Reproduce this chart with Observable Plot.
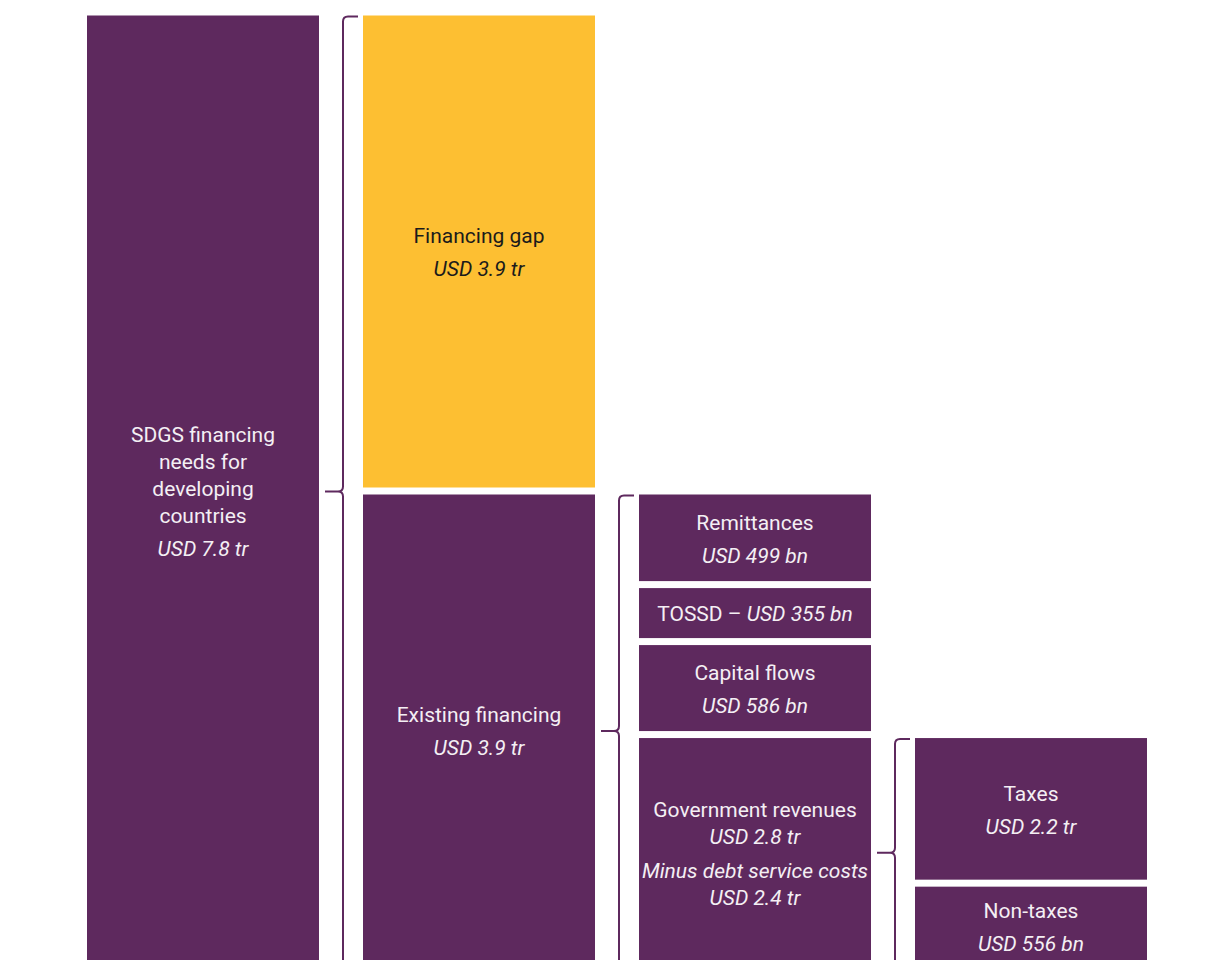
<!DOCTYPE html>
<html>
<head>
<meta charset="utf-8">
<script src="https://cdn.jsdelivr.net/npm/d3@7"></script>
<script src="https://cdn.jsdelivr.net/npm/@observablehq/plot@0.6"></script>
<style>
  html, body { margin: 0; padding: 0; background: #fff; overflow: hidden; }
  #chart svg { display: block; }
</style>
</head>
<body>
<div id="chart"></div>
<script>
// ---- Data ----
const columns = ["Needs", "Gap and existing", "Existing sources", "Government revenue sources"];

const blockColumn = [0, 1, 1, 2, 2, 2, 2, 3, 3];
const blockTitle = [
  "SDGS financing\nneeds for\ndeveloping\ncountries",
  "Financing gap",
  "Existing financing",
  "Remittances",
  "TOSSD –",
  "Capital flows",
  "Government revenues",
  "Taxes",
  "Non-taxes"
];
const blockAmount = [
  "USD 7.8 tr", "USD 3.9 tr", "USD 3.9 tr",
  "USD 499 bn", "USD 355 bn", "USD 586 bn", "USD 2.8 tr",
  "USD 2.2 tr", "USD 556 bn"
];
const blockNote = ["", "", "", "", "", "", "Minus debt service costs\nUSD 2.4 tr", "", ""];
// drawn height of each block (USD tr, as shown in the picture; small flows are drawn enlarged)
const blockShown = [7.8, 3.9, 3.9, 0.762, 0.464, 0.757, 1.917, 1.21, 0.707];
const blockFill = ["purple", "yellow", "purple", "purple", "purple", "purple", "purple", "purple", "purple"];
// a column starts at the top of the block it breaks down (index into blocks), -1 = top of chart
const columnParent = [-1, -1, 2, 6];
// braces: [block whose right side carries the brace, column that is bracketed]
const braces = [[0, 1], [1, 2], [5, 3]];

// ---- Build stacked blocks ----
const PURPLE = "#5e295e", YELLOW = "#fdbf32";
const blocks = [];
const colCursor = {};
for (let i = 0; i < blockTitle.length; i++) {
  const c = blockColumn[i];
  if (!(c in colCursor)) {
    const p = columnParent[c];
    colCursor[c] = p < 0 ? 0 : blocks[p].y1;
  }
  const y1 = colCursor[c], y2 = y1 + blockShown[i];
  colCursor[c] = y2;
  blocks.push({
    col: columns[c], y1, y2,
    title: blockTitle[i], amount: blockAmount[i], note: blockNote[i],
    fill: blockFill[i] === "yellow" ? YELLOW : PURPLE,
    ink: blockFill[i] === "yellow" ? "#1b1b1b" : "#f4eff4"
  });
}
const braceData = braces.map(([b, c]) => {
  const kids = blocks.filter(d => d.col === columns[c]);
  return { col: blocks[b].col, y1: d3.min(kids, d => d.y1), y2: d3.max(kids, d => d.y2) };
});

const INSET = 3.5;
const FONT = "Roboto, 'Noto Sans', sans-serif";
const FS = 21;

// custom mark: text labels centred in blocks
function labelMark(index, scales) {
  const x = scales.x, y = scales.y;
  const bw = x.bandwidth();
  const g = d3.create("svg:g")
    .attr("font-family", FONT).attr("font-size", FS).attr("text-anchor", "middle");
  for (const d of blocks) {
    const cx = x(d.col) + bw / 2;
    const top = Math.min(y(d.y1), y(d.y2)), bot = Math.max(y(d.y1), y(d.y2));
    const cy = (top + bot) / 2 + 1;
    if (bot - top < 70) {
      // single line, title + amount inline
      const t = g.append("text").attr("x", cx).attr("y", cy).attr("dy", "0.35em").attr("fill", d.ink);
      t.append("tspan").text(d.title + " ");
      t.append("tspan").attr("font-style", "italic").text(d.amount);
      continue;
    }
    const lines = [];
    d.title.split("\n").forEach((s, i) => lines.push({ s, it: false, gap: i ? 27 : 0 }));
    lines.push({ s: d.amount, it: true, gap: d.note ? 27 : 33 });
    if (d.note) d.note.split("\n").forEach((s, i) => lines.push({ s, it: true, gap: i ? 27 : 34 }));
    let acc = 0;
    lines.forEach(l => { acc += l.gap; l.off = acc; });
    const shift = acc / 2;
    for (const l of lines) {
      g.append("text").attr("x", cx).attr("y", cy - shift + l.off).attr("dy", "0.35em")
        .attr("fill", d.ink).attr("font-style", l.it ? "italic" : null).text(l.s);
    }
  }
  return g.node();
}

// custom mark: curly braces
function braceMark(index, scales) {
  const x = scales.x, y = scales.y;
  const bw = x.bandwidth();
  const g = d3.create("svg:g").attr("fill", "none").attr("stroke", PURPLE)
    .attr("stroke-width", 2).attr("stroke-linecap", "butt");
  for (const b of braceData) {
    const right = x(b.col) + bw;
    const vx = right + 24;
    const top = Math.min(y(b.y1), y(b.y2)) + INSET + 1, bot = Math.max(y(b.y1), y(b.y2)) - INSET;
    const mid = (top + bot) / 2;
    const r = 5, arm = 15, tip = 18;
    const p = d3.path();
    p.moveTo(vx + arm, top);
    p.lineTo(vx + r, top);
    p.quadraticCurveTo(vx, top, vx, top + r);
    p.lineTo(vx, mid - r);
    p.quadraticCurveTo(vx, mid, vx - r, mid);
    p.lineTo(vx - tip, mid);
    p.moveTo(vx - r, mid);
    p.quadraticCurveTo(vx, mid, vx, mid + r);
    p.lineTo(vx, bot - r);
    p.quadraticCurveTo(vx, bot, vx + r, bot);
    p.lineTo(vx + arm, bot);
    g.append("path").attr("d", p.toString());
  }
  return g.node();
}

const chart = Plot.plot({
  width: 1211,
  height: 970,
  marginTop: 12,
  marginBottom: 0,
  marginLeft: 43,
  marginRight: 20,
  x: { domain: columns, padding: 0.1594, axis: null },
  y: { domain: [0, 7.8], reverse: true, axis: null },
  marks: [
    Plot.rect(blocks, {
      x: "col", y1: "y1", y2: "y2", fill: "fill",
      insetTop: INSET, insetBottom: INSET
    }),
    braceMark,
    labelMark
  ],
  style: { background: "#fff" }
});
document.getElementById("chart").append(chart);
</script>
</body>
</html>
